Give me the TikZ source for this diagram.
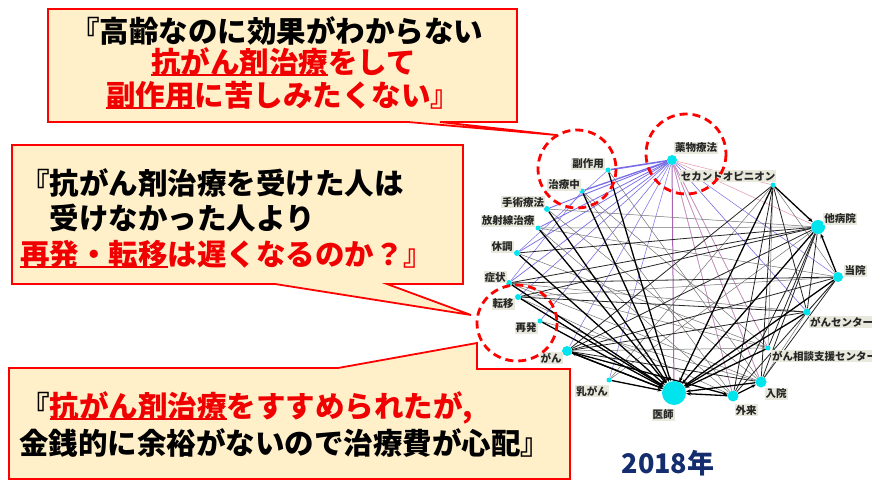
\documentclass[tikz,border=0pt]{standalone}
\usepackage{fontspec}
\setmainfont{Noto Sans CJK JP}
\usetikzlibrary{arrows.meta}
\definecolor{boxfill}{RGB}{255,240,202}
\definecolor{boxred}{RGB}{255,0,0}
\definecolor{txtred}{RGB}{240,0,0}
\definecolor{nodecyan}{RGB}{0,228,238}
\definecolor{lblbg}{RGB}{232,232,220}
\definecolor{edgeblue}{RGB}{120,110,230}
\definecolor{edgepink}{RGB}{228,150,170}
\definecolor{edgepurple}{RGB}{170,100,180}
\definecolor{navy}{RGB}{20,45,110}
\newcommand\redul[1]{\setbox0\hbox{\color{txtred}#1}\rlap{\color{txtred}\rule[-3pt]{\wd0}{1.8pt}}\box0}
\pgfdeclarelayer{bg}
\pgfsetlayers{bg,main}
\tikzset{
  callout/.style={fill=boxfill, draw=boxred, line width=1.8pt, line join=miter},
  calltxt/.style={font=\fontsize{29.5}{32}\selectfont\bfseries, inner sep=0pt, anchor=west, text height=26pt, text depth=3.5pt},
  ring/.style={draw=boxred, line width=2.8pt, dash pattern=on 8pt off 5pt},
  vx/.style={circle, fill=nodecyan, draw=none, inner sep=0pt, minimum size=#1},
  lbl/.style={fill=lblbg, inner sep=1pt, font=\fontsize{10.5}{11}\selectfont\bfseries, text=black!85},
  hb/.style={draw=black, line width=1.3pt},
  mb/.style={draw=black!85, line width=0.8pt},
  tb/.style={draw=black!55, line width=0.5pt},
  pk/.style={draw=edgepink, line width=0.5pt},
  arr/.style={-{Stealth[length=4.5pt,width=3.5pt]}}
}
\begin{document}
\begin{tikzpicture}[x=1pt,y=-1pt]
\useasboundingbox (0,0) rectangle (872,481);

% network vertices
\node[vx=10pt] (yaku) at (672,160) {};
\node[vx=5pt] (fuku) at (608,170) {};
\node[vx=5pt] (chiryo) at (582,191) {};
\node[vx=5pt] (second) at (773,185) {};
\node[vx=6pt] (shujutsu) at (547,209) {};
\node[vx=5pt] (hoshasen) at (538,228) {};
\node[vx=6pt] (taicho) at (517,253) {};
\node[vx=6pt] (shojo) at (509,283) {};
\node[vx=6pt] (teni) at (518,297) {};
\node[vx=5pt] (saihatsu) at (540,321) {};
\node[vx=10pt] (gan) at (567,351) {};
\node[vx=5pt] (nyugan) at (609,380) {};
\node[vx=24pt] (ishi) at (674,393) {};
\node[vx=11pt] (gairai) at (733,396) {};
\node[vx=11pt] (nyuin) at (761,382) {};
\node[vx=5pt] (soudan) at (768,348) {};
\node[vx=7pt] (center) at (807,312) {};
\node[vx=10pt] (toin) at (838,277) {};
\node[vx=14pt] (tabyoin) at (818,227) {};

\begin{pgfonlayer}{bg}
\fill[white] (0,0) rectangle (872,481);
% blue edges from yaku
\foreach \a/\w in {fuku/1.6, chiryo/1.3, shujutsu/0.9, hoshasen/0.8, taicho/0.7, shojo/0.7, teni/0.6, saihatsu/0.6, nyugan/0.5, gan/0.5, gairai/0.5, nyuin/0.5, center/0.6, toin/0.5, soudan/0.5}
  \draw[draw=edgeblue, line width=\w pt] (yaku) -- (\a);
\draw[draw=edgeblue, line width=0.5pt] (fuku) -- (taicho);
\draw[draw=edgeblue, line width=0.5pt] (chiryo) -- (shojo);
\foreach \a in {tabyoin, soudan, nyuin, gairai, second}
  \draw[pk] (yaku) -- (\a);
\draw[draw=edgepurple, line width=1pt] (yaku) -- (ishi);
% thin gray
\foreach \a/\b in {tabyoin/shujutsu, tabyoin/hoshasen, tabyoin/nyugan, second/toin, second/soudan, second/nyugan, toin/hoshasen, toin/teni, toin/center, center/shojo, center/nyuin, gan/soudan, fuku/nyuin, chiryo/soudan, shujutsu/nyuin, shojo/nyuin, teni/gairai, saihatsu/nyuin, taicho/soudan, hoshasen/gairai, shojo/soudan, chiryo/gairai}
  \draw[tb] (\a) -- (\b);
% medium black
\foreach \a/\b in {tabyoin/center, tabyoin/nyuin, tabyoin/gairai, tabyoin/soudan, tabyoin/shojo, tabyoin/taicho, tabyoin/gan, tabyoin/teni, second/center, second/nyuin, second/gairai, second/gan, toin/gan, toin/nyuin, toin/gairai, toin/shojo, center/gan, center/teni, gan/nyuin}
  \draw[mb] (\a) -- (\b);
% heavy black
\foreach \a in {fuku, chiryo, shujutsu, hoshasen, taicho, shojo, teni, saihatsu, gan, nyugan, second, tabyoin, toin, center, soudan, nyuin, gairai}
  \draw[hb, arr] (\a) -- (ishi);
\draw[hb, arr] (second) -- (tabyoin);
\draw[hb, arr] (toin) -- (tabyoin);
\draw[hb, arr] (ishi) -- (gan);
\draw[hb, arr] (gan) -- (gairai);
\draw[hb, arr] (gairai) -- (nyuin);
\end{pgfonlayer}

% labels
\node[lbl] (lyaku) at (696,148) {薬物療法};
\node[lbl] (lfuku) at (588,164) {副作用};
\node[lbl] (lchiryo) at (564,185) {治療中};
\node[lbl] (lsecond) at (728,176) {セカンドオピニオン};
\node[lbl] (lshujutsu) at (523,202) {手術療法};
\node[lbl] (lhoshasen) at (508,221) {放射線治療};
\node[lbl] (ltaicho) at (502,247) {休調};
\node[lbl] (lshojo) at (495,277) {症状};
\node[lbl] (lteni) at (503,304) {転移};
\node[lbl] (lsaihatsu) at (526,328) {再発};
\node[lbl] (lgan) at (551,358) {がん};
\node[lbl] (lnyugan) at (592,391) {乳がん};
\node[lbl] (lishi) at (663,415) {医師};
\node[lbl] (lgairai) at (746,410) {外来};
\node[lbl] (lnyuin) at (776,394) {入院};
\node[lbl, anchor=west] (lsoudan) at (771,356) {がん相談支援センター};
\node[lbl, anchor=west] (lcenter) at (809,322) {がんセンター};
\node[lbl] (ltoin) at (855,271) {当院};
\node[lbl] (ltabyoin) at (840,219) {他病院};

% callouts
\path[callout] (48,9) -- (517,9) -- (517,122) -- (440,122) -- (556,135) -- (408,122) -- (48,122) -- cycle;
\path[callout] (12,145) -- (463,145) -- (463,284) -- (387,284) -- (471,315) -- (275,284) -- (12,284) -- cycle;
\path[callout] (9,368) -- (338,368) -- (477,343) -- (477,369) -- (570,369) -- (570,479) -- (9,479) -- cycle;

\node[calltxt] (c1a) at (70,31) {『高齢なのに効果がわからない};
\node[calltxt] (c1b) at (151,62) {\redul{抗がん剤治療}をして};
\node[calltxt] (c1c) at (106,95) {\redul{副作用}に苦しみたくない』};

\node[calltxt] (c2a) at (20,183) {『抗がん剤治療を受けた人は};
\node[calltxt] (c2b) at (20,218) {　受けなかった人より};
\node[calltxt] (c2c) at (20,254) {\redul{再発・転移}は遅くなるのか？』};

\node[calltxt] (c3a) at (20,406) {『\redul{抗がん剤治療}をすすめられたが,};
\node[calltxt] (c3b) at (19,443) {金銭的に余裕がないので治療費が心配』};

% dashed rings
\draw[ring] (577,169) circle (39);
\draw[ring] (686,154) circle (40);
\draw[ring] (517,323) ellipse (40 and 38);

\node[font=\fontsize{27}{30}\selectfont\bfseries, text=navy, inner sep=0pt] (year) at (668,463) {2018年};
\end{tikzpicture}
\end{document}
